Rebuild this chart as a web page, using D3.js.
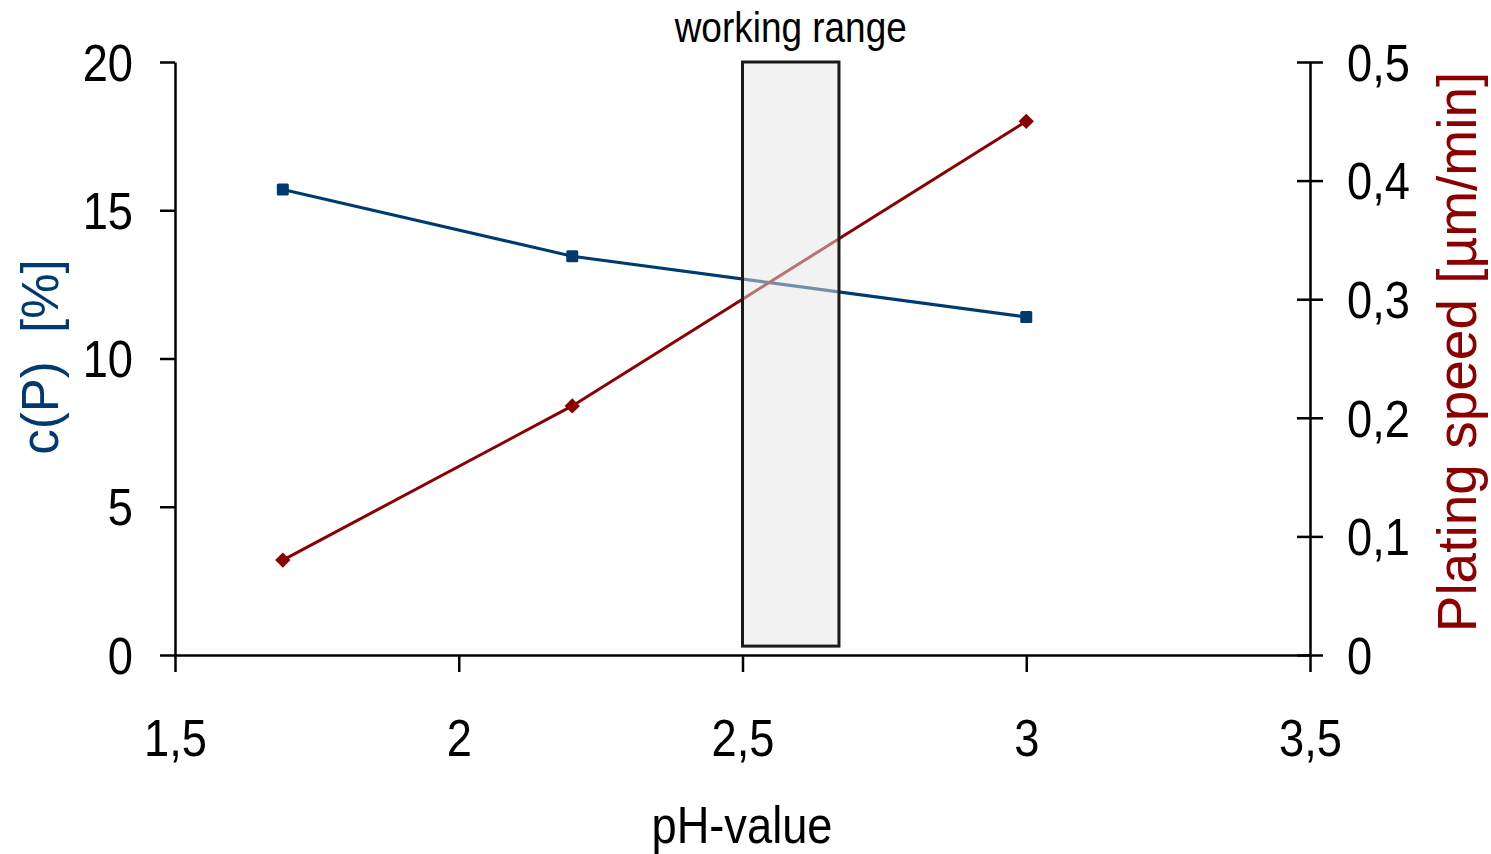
<!DOCTYPE html>
<html><head><meta charset="utf-8">
<script src="https://cdn.jsdelivr.net/npm/d3@7"></script>
<style>body{margin:0;background:#fff}svg{display:block}text{font-family:"Liberation Sans Narrow","Arial Narrow","Liberation Sans",Arial,sans-serif}</style>
</head><body><svg id="c" width="1491" height="854"></svg>
<script>
const phValues = [1.69, 2.2, 3.0];
const cP = [15.7, 13.45, 11.4];
const platingSpeed = [0.08, 0.21, 0.45];
const xTicks = [1.5, 2, 2.5, 3, 3.5];
const yLeftTicks = [0, 5, 10, 15, 20];
const yRightTicks = [0, 0.1, 0.2, 0.3, 0.4, 0.5];
const workingRange = [2.5, 2.67];
const workingRangeY = [0.3, 20];

const svg = d3.select("#c");
const x = d3.scaleLinear().domain([1.5, 3.5]).range([175, 1310]);
const yL = d3.scaleLinear().domain([0, 20]).range([655, 62]);
const yR = d3.scaleLinear().domain([0, 0.5]).range([655, 62]);
const fmt = d => String(d).replace(".", ",");
const blue = "#003a70", red = "#8b0000";
const SX = 0.87;

// axes
const gx = svg.append("g").attr("transform", "translate(0,655)")
  .call(d3.axisBottom(x).tickValues(xTicks).tickFormat(fmt).tickSize(17).tickSizeOuter(0));
gx.selectAll("text").attr("dy", "0").attr("y", 101).attr("transform", `scale(${SX},1)`).style("font-size", "52px");
const gl = svg.append("g").attr("transform", "translate(175,0)")
  .call(d3.axisLeft(yL).tickValues(yLeftTicks).tickFormat(fmt).tickSize(15).tickSizeOuter(0));
gl.selectAll("text").attr("x", -42 / SX).attr("dy", "0.35em").attr("transform", `scale(${SX},1)`).style("font-size", "52px");
const gr = svg.append("g").attr("transform", "translate(1310,0)")
  .call(d3.axisRight(yR).tickValues(yRightTicks).tickFormat(fmt).tickSize(13).tickSizeOuter(0));
gr.selectAll("line").attr("x1", -13);
gr.selectAll("text").attr("x", 37 / SX).attr("dy", "0.35em").attr("transform", `scale(${SX},1)`).style("font-size", "52px");
[gx, gl, gr].forEach(g => {
  g.select(".domain").attr("stroke", "#000").attr("stroke-width", 2.5);
  g.selectAll(".tick line").attr("stroke", "#000").attr("stroke-width", 2.5);
  g.selectAll("text").attr("fill", "#000").attr("font-family", null);
});

// lines
const lineL = d3.line().x((d, i) => x(phValues[i])).y(d => yL(d));
const lineR = d3.line().x((d, i) => x(phValues[i])).y(d => yR(d));
svg.append("path").attr("d", lineL(cP)).attr("fill", "none").attr("stroke", blue).attr("stroke-width", 3);
svg.append("path").attr("d", lineR(platingSpeed)).attr("fill", "none").attr("stroke", red).attr("stroke-width", 3);
svg.selectAll(".sq").data(cP).enter().append("rect")
  .attr("x", (d, i) => x(phValues[i]) - 6).attr("y", d => yL(d) - 6)
  .attr("width", 12).attr("height", 12).attr("rx", 1.5).attr("fill", blue);
svg.selectAll(".dm").data(platingSpeed).enter().append("path")
  .attr("d", d3.symbol(d3.symbolDiamond2, 150))
  .attr("transform", (d, i) => `translate(${x(phValues[i])},${yR(d)})`).attr("fill", red);

// working range
svg.append("rect")
  .attr("x", x(workingRange[0])).attr("y", yL(workingRangeY[1]))
  .attr("width", x(workingRange[1]) - x(workingRange[0]))
  .attr("height", yL(workingRangeY[0]) - yL(workingRangeY[1]))
  .attr("fill", "rgb(230,230,230)").attr("fill-opacity", 0.5).attr("stroke", "#1a1a1a").attr("stroke-width", 3);
const wrx = (x(workingRange[0]) + x(workingRange[1])) / 2;
svg.append("text").attr("x", wrx / 0.88).attr("y", 42).attr("transform", "scale(0.88,1)")
  .attr("text-anchor", "middle").style("font-size", "42px").text("working range");

// titles
svg.append("text").attr("x", 742 / SX).attr("y", 843).attr("transform", `scale(${SX},1)`).attr("text-anchor", "middle")
  .style("font-size", "52px").text("pH-value");
svg.append("text").attr("transform", "translate(58,357) rotate(-90)").attr("text-anchor", "middle")
  .attr("fill", blue).style("font-family", "'Liberation Sans',Arial,sans-serif").style("font-size", "51px").attr("xml:space", "preserve").text("c(P)  [%]");
svg.append("text").attr("transform", "translate(1476,352) rotate(-90)").attr("text-anchor", "middle")
  .attr("fill", red).style("font-family", "'Liberation Sans',Arial,sans-serif").style("font-size", "55px").text("Plating speed [µm/min]");
</script></body></html>
